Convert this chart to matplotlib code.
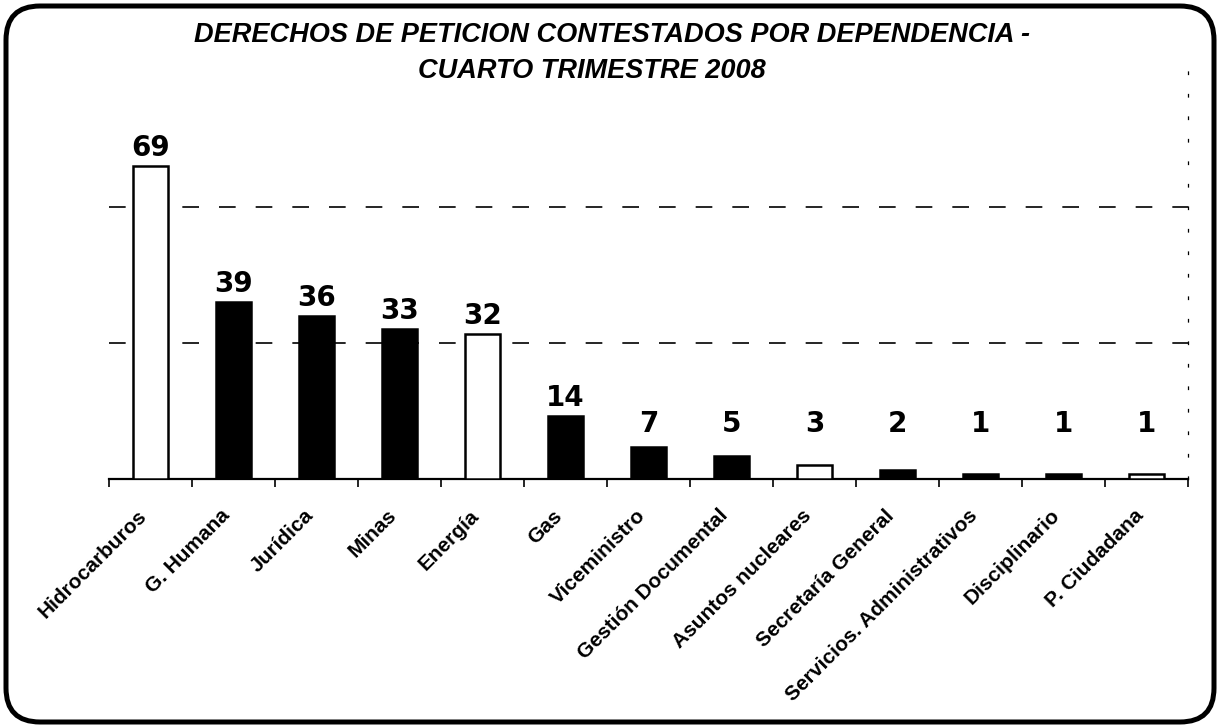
#!/usr/bin/env python3

import matplotlib
matplotlib.use('Agg')
import matplotlib.pyplot as plt
import matplotlib.transforms as mtransforms
from matplotlib.patches import FancyBboxPatch
import numpy as np

dependencias = ['Hidrocarburos', 'G. Humana', 'Jurídica', 'Minas', 'Energía',
                'Gas', 'Viceministro', 'Gestión Documental',
                'Asuntos nucleares', 'Secretaría General',
                'Servicios. Administrativos', 'Disciplinario', 'P. Ciudadana']
contestados = [69, 39, 36, 33, 32, 14, 7, 5, 3, 2, 1, 1, 1]
rellenos = ['white', 'black', 'black', 'black', 'white', 'black', 'black',
            'black', 'white', 'black', 'black', 'black', 'white']

titulo = ['DERECHOS DE PETICION CONTESTADOS POR DEPENDENCIA -',
          'CUARTO TRIMESTRE 2008']

W, H = 1220, 728
fig = plt.figure(figsize=(W / 100, H / 100), dpi=100)
fig.patch.set_facecolor('white')

# rounded frame around the whole chart (pixel coordinates)
marco = FancyBboxPatch((6, 6), W - 12, H - 12,
                       boxstyle='round,pad=0,rounding_size=34',
                       transform=mtransforms.IdentityTransform(),
                       facecolor='none', edgecolor='black', linewidth=3.6)
fig.patches.append(marco)

ax = fig.add_axes([109 / W, 249 / H, 1079 / W, 408 / H])

x = np.arange(len(dependencias))
barras = ax.bar(x, contestados, 0.41, color=rellenos, edgecolor='black',
                linewidth=1.8, zorder=3)

ax.set_xlim(-0.5, len(dependencias) - 0.5)
ax.set_ylim(0, 90)

# dashed horizontal gridlines
ax.set_yticks([30, 60])
ax.yaxis.grid(True, color='black', linestyle=(0, (10, 12)), linewidth=1.2)
ax.tick_params(axis='y', length=0, labelleft=False)

for lado in ['top', 'left']:
    ax.spines[lado].set_visible(False)
ax.spines['right'].set_linestyle((0, (2, 16)))
ax.spines['right'].set_linewidth(0.9)
ax.spines['bottom'].set_linewidth(1.6)

# tick marks between categories, labels at centres
ax.set_xticks(np.arange(-0.5, len(dependencias)))
ax.set_xticklabels([])
ax.tick_params(axis='x', direction='out', length=6, width=1.2)

desplaza = mtransforms.offset_copy(ax.get_xaxis_transform(), fig=fig,
                                   x=-13, y=-27, units='dots')
for xi, nombre in zip(x, dependencias):
    ax.text(xi, 0, nombre, transform=desplaza, rotation=45,
            rotation_mode='anchor', ha='right', va='top',
            fontsize=15, fontweight='bold', family='Liberation Sans')

# value labels
for rect, v in zip(barras, contestados):
    ax.annotate(str(v),
                xy=(rect.get_x() + rect.get_width() / 2, max(v, 8.2)),
                xytext=(0, 10), textcoords='offset pixels',
                ha='center', va='baseline', fontsize=20,
                fontweight='bold', family='DejaVu Sans')

# title, two centred lines
fig.text(612 / W, 1 - 35 / H, titulo[0], ha='center', va='center',
         fontsize=19.5, fontstyle='italic', fontweight='bold',
         family='Liberation Sans')
fig.text(592 / W, 1 - 71 / H, titulo[1], ha='center', va='center',
         fontsize=19.5, fontstyle='italic', fontweight='bold',
         family='Liberation Sans')

fig.savefig('out.png', dpi=100, facecolor='white')
